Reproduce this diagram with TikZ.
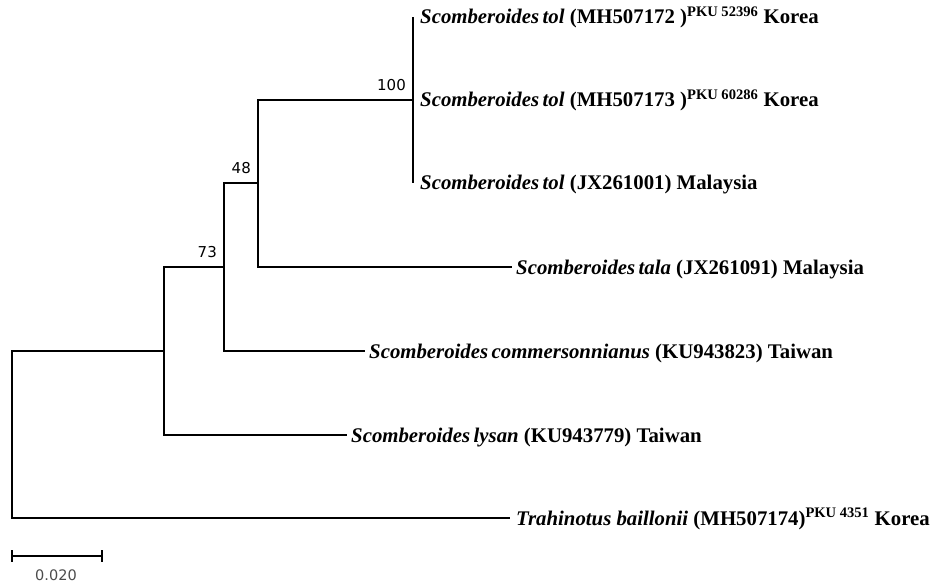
\documentclass[tikz,border=0pt]{standalone}
\usepackage{fontspec}
\setmainfont{Liberation Serif}
\newfontfamily\bootfont{DejaVu Sans}
\usetikzlibrary{positioning}

\begin{document}
\begin{tikzpicture}[
    x=1pt, y=-1pt,
    branch/.style={line width=1.3pt, color=black},
    taxon/.style={anchor=base west, inner sep=0pt,
                  font=\fontsize{20.8}{24}\selectfont\bfseries},
    boot/.style={anchor=south east, inner sep=0pt, xshift=-7pt, yshift=9pt,
                 font=\bootfont\fontsize{15}{17}\selectfont}
]
\useasboundingbox (0,0) rectangle (941,585);

\coordinate (root) at (12,435);
\coordinate (nA) at (164,351);
\coordinate (n73) at (224,267);
\coordinate (n48) at (258,183);
\coordinate (n100) at (413,100);

\coordinate (tol1) at (413,17);
\coordinate (tol2) at (413,100);
\coordinate (tol3) at (413,183);
\coordinate (tala) at (512,267);
\coordinate (comm) at (365,351);
\coordinate (lysan) at (347,435);
\coordinate (trah) at (510,518);

\node[taxon] (tol1lab) at ([xshift=7pt,yshift=-7pt]tol1) {\textit{Scomberoides\,tol} (MH507172 )\textsuperscript{PKU 52396} Korea};
\node[taxon] (tol2lab) at ([xshift=7pt,yshift=-7pt]tol2) {\textit{Scomberoides\,tol} (MH507173 )\textsuperscript{PKU 60286} Korea};
\node[taxon] (tol3lab) at ([xshift=7pt,yshift=-7pt]tol3) {\textit{Scomberoides\,tol} (JX261001) Malaysia};
\node[taxon] (talalab) at ([xshift=4pt,yshift=-7pt]tala) {\textit{Scomberoides\,tala} (JX261091) Malaysia};
\node[taxon] (commlab) at ([xshift=4pt,yshift=-7pt]comm) {\textit{Scomberoides\,commersonnianus} (KU943823) Taiwan};
\node[taxon] (lysanlab) at ([xshift=4pt,yshift=-7pt]lysan) {\textit{Scomberoides\,lysan} (KU943779) Taiwan};
\node[taxon] (trahlab) at ([xshift=6pt,yshift=-7pt]trah) {\textit{Trahinotus baillonii} (MH507174)\textsuperscript{PKU 4351} Korea};

\draw[branch] (root) |- (nA);
\draw[branch] (root) |- (trah);
\draw[branch] (nA) |- (n73);
\draw[branch] (nA) |- (lysan);
\draw[branch] (n73) |- (n48);
\draw[branch] (n73) |- (comm);
\draw[branch] (n48) |- (n100);
\draw[branch] (n48) |- (tala);
\draw[branch] (n100) -- (tol1);
\draw[branch] (n100) -- (tol3);

\node[boot] (b100) at (n100) {100};
\node[boot] (b48) at (n48) {48};
\node[boot] (b73) at (n73) {73};

% scale bar
\coordinate (sbl) at (12,556);
\coordinate (sbr) at (102,556);
\draw[branch] ([yshift=6pt]sbl) -- ([yshift=-6pt]sbl);
\draw[branch] ([yshift=6pt]sbr) -- ([yshift=-6pt]sbr);
\draw[branch] (sbl) -- (sbr);
\node[inner sep=0pt, text=black!70, font=\bootfont\fontsize{14.5}{16}\selectfont] (sbtext) at (56,575) {0.020};

\end{tikzpicture}
\end{document}
